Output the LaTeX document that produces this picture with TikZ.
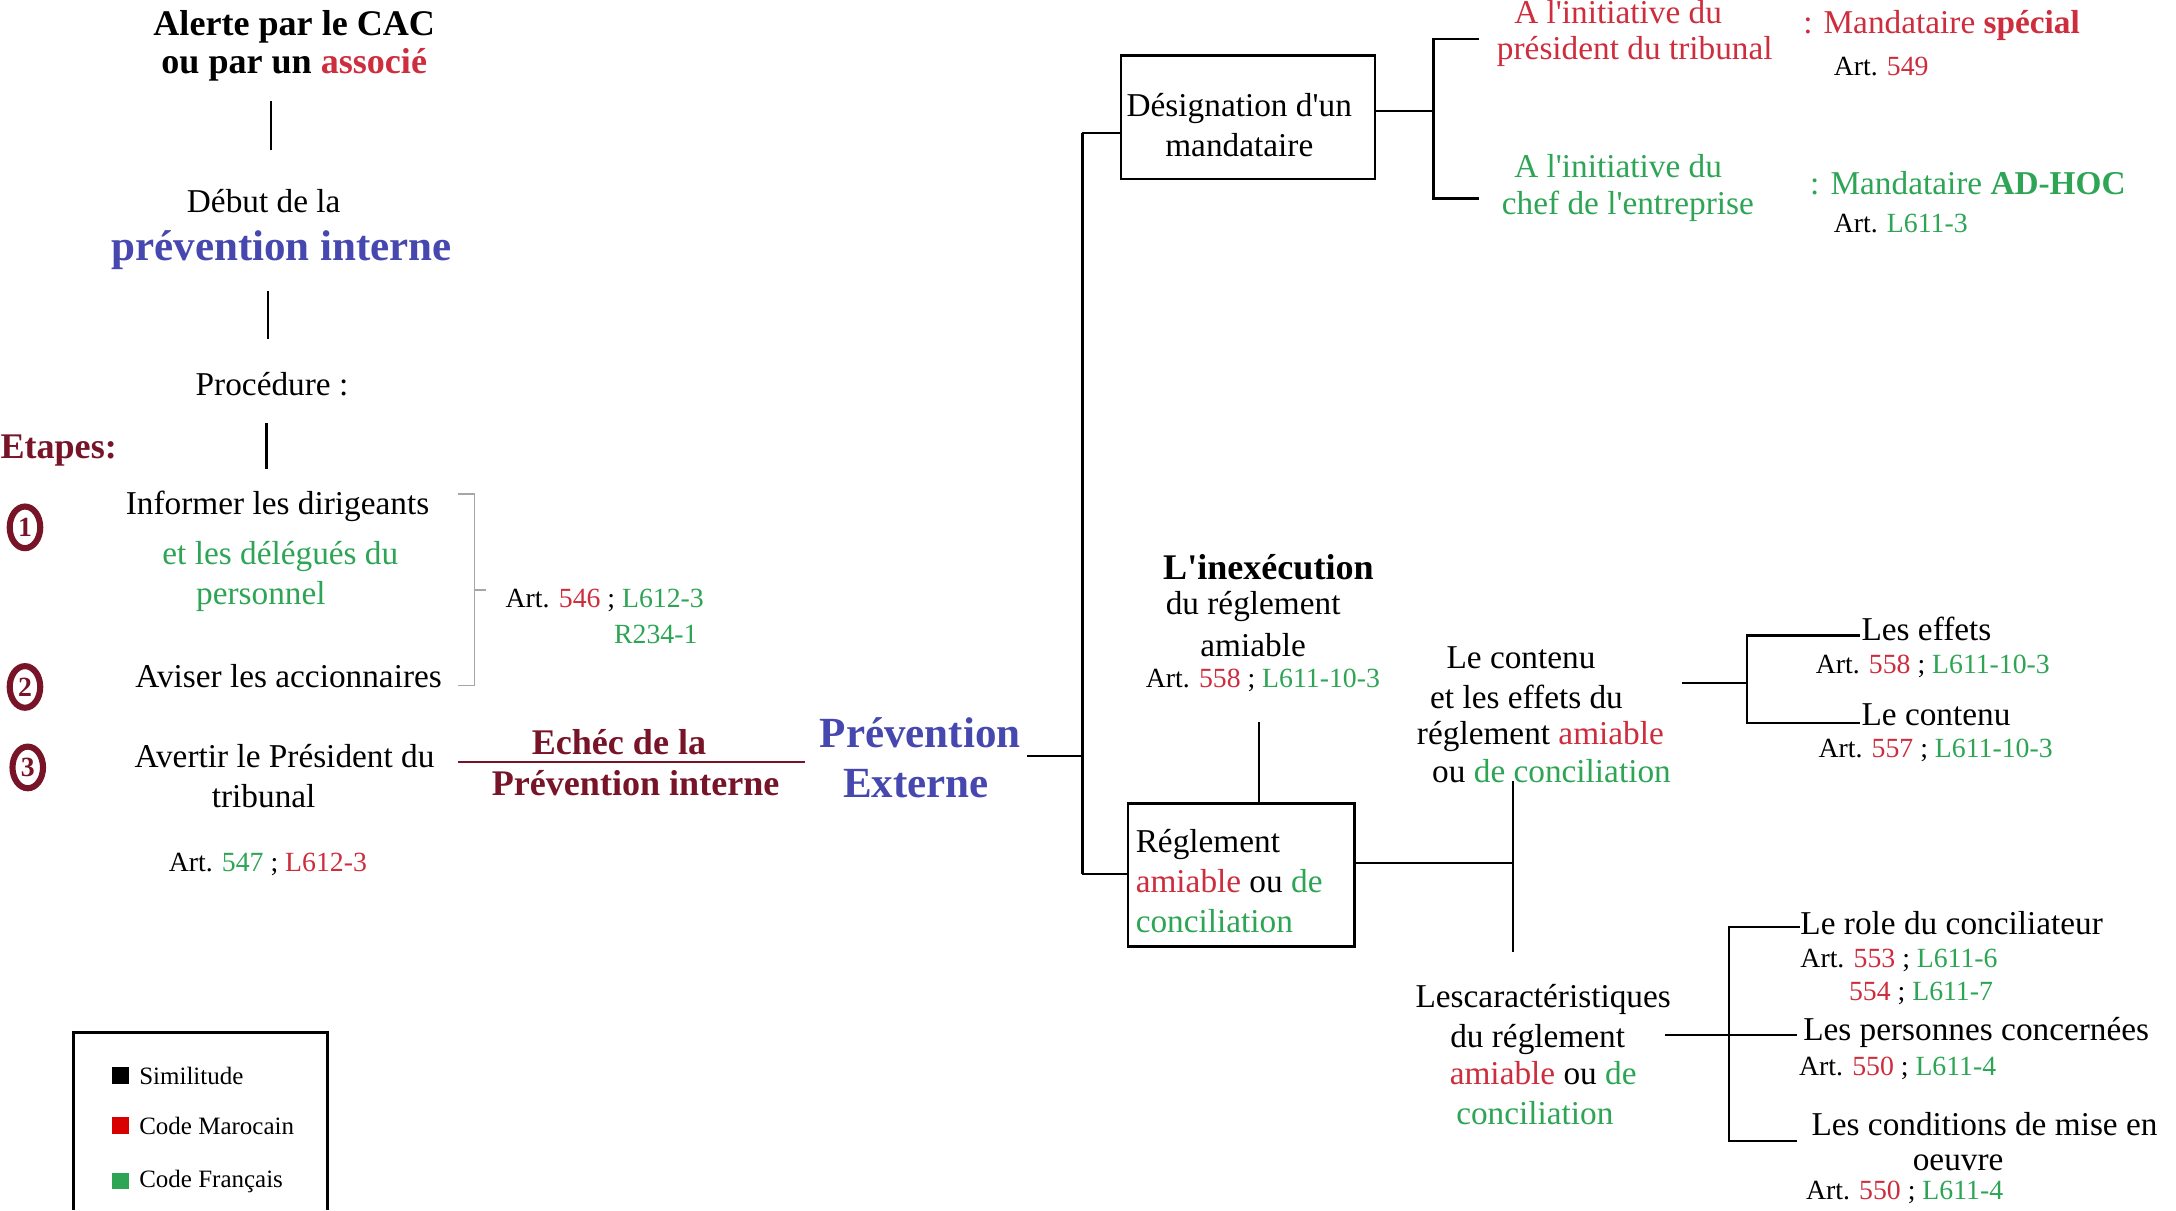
\documentclass[tikz,border=0pt]{standalone}
\usepackage{fontspec}
\setmainfont{Liberation Serif}
\usetikzlibrary{shapes.geometric}
\definecolor{cred}{RGB}{205,45,60}
\definecolor{cgreen}{RGB}{45,165,85}
\definecolor{cblue}{RGB}{70,72,175}
\definecolor{cmaroon}{RGB}{120,20,40}
\newcommand\mainsz{\fontsize{12}{14.3}\selectfont}
\newcommand\boldsz{\fontsize{13}{15}\selectfont\bfseries}
\newcommand\artsz{\fontsize{10}{12}\selectfont}
\newcommand\bigsz{\fontsize{15.5}{18}\selectfont}
\newcommand\legsz{\fontsize{9}{11}\selectfont}
\newcommand\cR[1]{\textcolor{cred}{#1}}
\newcommand\cG[1]{\textcolor{cgreen}{#1}}
\newcommand\ap{\textquotesingle}
\tikzset{
  tx/.style={inner sep=0pt, font=\mainsz},
  txb/.style={inner sep=0pt, font=\boldsz},
  big/.style={inner sep=0pt, font=\bigsz\bfseries, text=cblue},
  art/.style={inner sep=0pt, font=\artsz},
  ln/.style={line width=0.8pt, black},
  boxn/.style={draw, line width=0.8pt, inner sep=0pt},
  circ/.style={ellipse, draw=cmaroon, line width=2.2pt, minimum width=11pt, minimum height=15pt, inner sep=0pt, text=cmaroon, font=\fontsize{10}{11}\selectfont\bfseries},
  legsq/.style={minimum size=6pt, inner sep=0pt},
  legtx/.style={inner sep=0pt, font=\legsz, anchor=west}
}
\begin{document}
\begin{tikzpicture}[x=0.5pt,y=-0.5pt]
\useasboundingbox[fill=white] (0,0) rectangle (1568,872);

% ---------- left column ----------
\node[txb] (alerte1) at (212,19) {Alerte par le CAC};
\node[txb] (alerte2) at (212,47) {ou par un \cR{associé}};
\coordinate (v1a) at (195,73); \coordinate (v1b) at (195,108);
\draw[ln] (v1a) -- (v1b);
\node[tx] (debut) at (190,145) {Début de la};
\node[big] (prevint) at (203,180) {prévention interne};
\coordinate (v2a) at (193,210); \coordinate (v2b) at (193,244);
\draw[ln] (v2a) -- (v2b);
\node[tx] (proc) at (196,277) {Procédure :};
\coordinate (v3a) at (192,305); \coordinate (v3b) at (192,338);
\draw[ln] (v3a) -- (v3b);
\node[txb, text=cmaroon, anchor=west] (etapes) at (0,325) {Etapes:};

\node[circ] (n1) at (18,380) {1};
\node[circ] (n2) at (18,495) {2};
\node[circ] (n3) at (20,553) {3};

\node[tx] (inf1) at (200,365) {Informer les dirigeants};
\node[tx, text=cgreen] (inf2) at (202,401) {et les délégués du};
\node[tx, text=cgreen] (inf3) at (188,430) {personnel};
\node[tx] (avis) at (208,487) {Aviser les accionnaires};

\coordinate (b1) at (330,356); \coordinate (b2) at (342,356);
\coordinate (b3) at (342,494); \coordinate (b4) at (330,494);
\coordinate (bm) at (342,425); \coordinate (bn) at (350,425);
\draw[line width=0.6pt, gray!70] (b1) -- (b2) -- (b3) -- (b4);
\draw[line width=0.6pt, gray!70] (bm) -- (bn);
\node[art, anchor=west] (art1) at (364,433) {Art. \cR{546} ; \cG{L612-3}};
\node[art, anchor=east, text=cgreen] (art1b) at (503,457) {R234-1};

\node[tx] (avert1) at (205,545) {Avertir le Président du};
\node[tx] (avert2) at (190,574) {tribunal};
\node[art] (art2) at (193,623) {Art. \cG{547} ; \cR{L612-3}};

\node[txb, text=cmaroon] (echec1) at (446,535) {Echéc de la};
\node[txb, text=cmaroon] (echec2) at (458,564) {Prévention interne};
\coordinate (e1) at (330,549); \coordinate (e2) at (580,549);
\draw[line width=0.9pt, cmaroon] (e1) -- (e2);

\node[big] (pe1) at (663,528) {Prévention};
\node[big] (pe2) at (660,565) {Externe};

% ---------- trunk ----------
\node[boxn, minimum width=91.5pt, minimum height=44.5pt] (desig) at (899.5,84.5) {};
\node[tx, align=center] (desigt) at (893,90) {Désignation d\ap un\\mandataire};
\node[boxn, minimum width=81.5pt, minimum height=51.5pt] (regl) at (894.5,630.5) {};
\node[tx, align=left, anchor=west] (reglt) at (818,635) {Réglement\\\cR{amiable} ou \cG{de}\\\cG{conciliation}};

\coordinate (t0) at (740,545); \coordinate (t1) at (780,545);
\coordinate (ttop) at (780,96); \coordinate (tbot) at (780,630);
\draw[ln] (t0) -- (t1);
\draw[ln] (ttop) -- (tbot);
\draw[ln] (ttop) -- (ttop -| desig.west);
\draw[ln] (tbot) -- (tbot -| regl.west);

% ---------- designation branch ----------
\coordinate (dj) at (1033,80);
\coordinate (dt) at (1033,28); \coordinate (db) at (1033,143);
\coordinate (dte) at (1066,28); \coordinate (dbe) at (1066,143);
\draw[ln] (dj -| desig.east) -- (dj);
\draw[ln] (dte) -- (dt) -- (db) -- (dbe);

\node[tx, text=cred] (pt1) at (1166,9) {A l\ap initiative du};
\node[tx, text=cred] (pt2) at (1178,37) {président du tribunal};
\node[tx, text=cred, anchor=west] (ms) at (1299,18) {: Mandataire \textbf{spécial}};
\node[art, anchor=west] (art549) at (1321,48) {Art. \cR{549}};
\node[tx, text=cgreen] (ch1) at (1166,120) {A l\ap initiative du};
\node[tx, text=cgreen] (ch2) at (1173,149) {chef de l\ap entreprise};
\node[tx, text=cgreen, anchor=west] (mah) at (1304,132) {: Mandataire \textbf{AD-HOC}};
\node[art, anchor=west] (art6113) at (1321,161) {Art. \cG{L611-3}};

% ---------- inexecution ----------
\node[txb] (inex1) at (914,409) {L\ap inexécution};
\node[tx] (inex2) at (903,437) {du réglement};
\node[tx] (inex3) at (903,465) {amiable};
\node[art] (inex4) at (910,490) {Art. \cR{558} ; \cG{L611-10-3}};
\coordinate (ia) at (907,520);
\draw[ln] (ia) -- (ia |- regl.north);

% ---------- reglement branches ----------
\coordinate (rj) at (1090,622);
\coordinate (rt) at (1090,563); \coordinate (rb) at (1090,686);
\draw[ln] (rj -| regl.east) -- (rj);
\draw[ln] (rt) -- (rb);

\node[tx] (ce1) at (1096,474) {Le contenu};
\node[tx] (ce2) at (1100,502) {et les effets du};
\node[tx] (ce3) at (1110,531) {réglement \cR{amiable}};
\node[tx] (ce4) at (1118,556) {ou \cG{de conciliation}};

\coordinate (c0) at (1212,492); \coordinate (c1) at (1259,492);
\coordinate (ct) at (1259,458); \coordinate (cb) at (1259,521);
\coordinate (cte) at (1340,458); \coordinate (cbe) at (1340,521);
\draw[ln] (c0) -- (c1);
\draw[ln] (cte) -- (ct) -- (cb) -- (cbe);
\node[tx, anchor=west] (eff) at (1341,453) {Les effets};
\node[art, anchor=west] (arteff) at (1308,480) {Art. \cR{558} ; \cG{L611-10-3}};
\node[tx, anchor=west] (cont) at (1341,515) {Le contenu};
\node[art, anchor=west] (artcont) at (1310,541) {Art. \cR{557} ; \cG{L611-10-3}};

\node[tx] (ca1) at (1112,720) {Lescaractéristiques};
\node[tx] (ca2) at (1108,749) {du réglement};
\node[tx] (ca3) at (1112,773) {\cR{amiable} ou \cG{de}};
\node[tx, text=cgreen] (ca4) at (1106,802) {conciliation};

\coordinate (k0) at (1200,746); \coordinate (k1) at (1295,746);
\coordinate (kt) at (1246,668); \coordinate (kb) at (1246,822);
\coordinate (kte) at (1297,668); \coordinate (kbe) at (1295,822);
\draw[ln] (k0) -- (k1);
\draw[ln] (kte) -- (kt) -- (kb) -- (kbe);

\node[tx, anchor=west] (role) at (1297,665) {Le role du conciliateur};
\node[art, anchor=west] (artrole1) at (1297,692) {Art. \cR{553} ; \cG{L611-6}};
\node[art, anchor=west] (artrole2) at (1332,716) {\cR{554} ; \cG{L611-7}};
\node[tx, anchor=west] (pers) at (1299,744) {Les personnes concernées};
\node[art, anchor=west] (artpers) at (1296,770) {Art. \cR{550} ; \cG{L611-4}};
\node[tx] (cond1) at (1430,810) {Les conditions de mise en};
\node[tx] (cond2) at (1411,838) {oeuvre};
\node[art, anchor=west] (artcond) at (1301,859) {Art. \cR{550} ; \cG{L611-4}};

% ---------- legend ----------
\coordinate (l1) at (53,872); \coordinate (l2) at (53,744);
\coordinate (l3) at (236,744); \coordinate (l4) at (236,872);
\draw[ln] (l1) -- (l2) -- (l3) -- (l4);
\node[legsq, fill=black] (sq1) at (87,775) {};
\node[legtx] (lg1) at (100,775) {Similitude};
\node[legsq, fill=red!85!black] (sq2) at (87,811) {};
\node[legtx] (lg2) at (100,811) {Code Marocain};
\node[legsq, fill=cgreen] (sq3) at (87,851) {};
\node[legtx] (lg3) at (100,851) {Code Français};
\end{tikzpicture}
\end{document}
